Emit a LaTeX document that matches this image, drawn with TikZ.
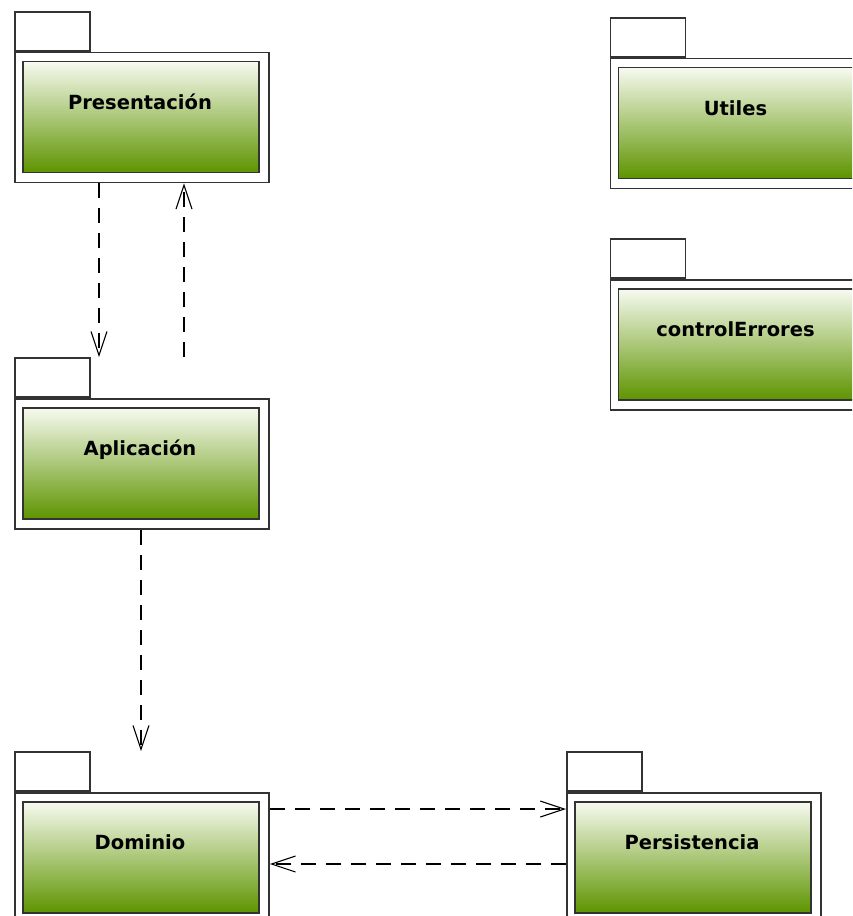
\documentclass[tikz,border=0pt]{standalone}
\usepackage{fontspec}
\setmainfont{DejaVu Sans}
\usetikzlibrary{arrows.meta,calc}
\definecolor{gtop}{HTML}{F7FAF0}
\definecolor{gbot}{HTML}{5E9400}
\definecolor{edgecol}{HTML}{333333}
\tikzset{
 pkgbody/.style={draw=edgecol,line width=1.8pt,fill=white,minimum width=254pt,minimum height=130pt,inner sep=0pt,anchor=north west},
 pkgtab/.style={draw=edgecol,line width=1.8pt,fill=white,minimum width=75pt,minimum height=39pt,inner sep=0pt,anchor=south west},
 pkginner/.style={draw=edgecol,line width=1.8pt,top color=gtop,bottom color=gbot,minimum width=236pt,minimum height=111pt,inner sep=0pt,anchor=north west},
 pkglabel/.style={font=\bfseries\fontsize{19.5}{22}\selectfont,inner sep=0pt,anchor=base},
 dep/.style={draw=black,line width=1.1pt,dash pattern=on 15pt off 10pt,-{Straight Barb[length=24pt,width=16pt,line width=1.1pt]}}
}
\newcommand\umlpkg[4]{%
 \node[pkgtab] (#1tab) at (#2,#3) {};
 \node[pkgbody] (#1) at (#2,#3) {};
 \node[pkginner] (#1in) at ($(#2,#3)+(8,9)$) {};
 \node[pkglabel] (#1lbl) at ($(#2,#3)+(126,57.5)$) {#4};
}
\begin{document}
\begin{tikzpicture}[x=1pt,y=-1pt]
\useasboundingbox (0,0) rectangle (852,916);
\clip (0,0) rectangle (852,916);
\umlpkg{pres}{14}{51.5}{Presentación}
\umlpkg{util}{609.5}{57.5}{Utiles}
\umlpkg{ctrl}{609.5}{279}{controlErrores}
\umlpkg{apl}{14}{398}{Aplicación}
\umlpkg{dom}{14}{792}{Dominio}
\umlpkg{pers}{566}{792}{Persistencia}
% connectors
\draw[dep] ($(pres.south west)+(85,0)$) -- ($(apltab.north west)+(85,0)$);
\draw[dep] ($(apltab.north west)+(170,0)$) -- ($(pres.south west)+(170,0)$);
\draw[dep] ($(apl.south west)+(127,0)$) -- ($(domtab.north west)+(127,0)$);
\draw[dep] ($(dom.north east)+(0,17)$) -- ($(pers.north west)+(0,17)$);
\draw[dep] ($(pers.north west)+(0,72)$) -- ($(dom.north east)+(0,72)$);
\end{tikzpicture}
\end{document}
